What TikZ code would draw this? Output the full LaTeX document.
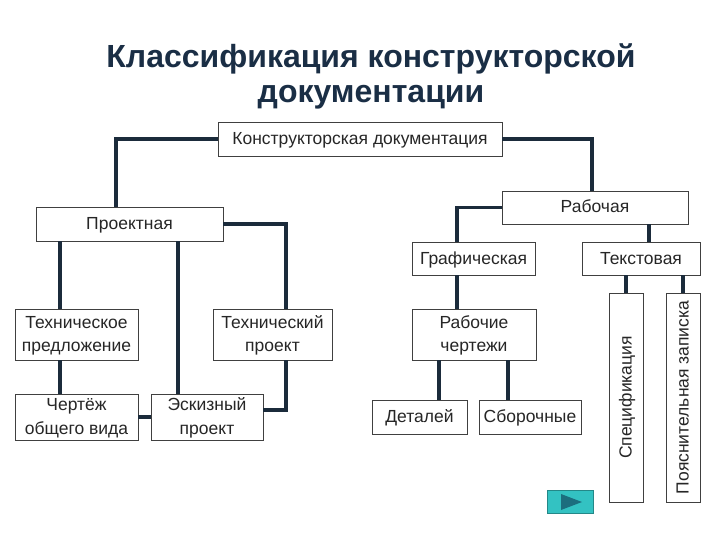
\documentclass[tikz,border=0pt]{standalone}
\usepackage{fontspec}
\setmainfont{Liberation Sans}
\usetikzlibrary{shapes.geometric}
\definecolor{linecol}{HTML}{1B2B3B}
\definecolor{titlecol}{HTML}{1A2E45}
\definecolor{btnfill}{HTML}{33C2C2}
\definecolor{btntri}{HTML}{1C6E7E}
% two centred lines
\newcommand{\twoline}[2]{\raisebox{-5.2pt}[0pt][0pt]{\begin{tabular}{@{}c@{}}#1\\#2\end{tabular}}}
\begin{document}
\begin{tikzpicture}[x=1pt,y=-1pt,
  box/.style={draw=black!75,line width=0.7pt,fill=white,align=center,inner sep=0pt,text=black!85,font=\fontsize{17.5}{23.5}\selectfont},
  low/.style={text height=22.5pt,text depth=11.5pt},
  lowb/.style={text height=22pt,text depth=11pt},
  head/.style={text=titlecol,anchor=base,inner sep=0pt,font=\fontsize{32}{36}\bfseries},
  link/.style={draw=linecol,line width=3.6pt}]
  \useasboundingbox (0,0) rectangle (720,540);
  \fill[white] (0,0) rectangle (720,540);

  % title
  \node[head] (title1) at (371,68) {Классификация конструкторской};
  \node[head] (title2) at (371,103) {документации};

  % nodes
  \node[box,low,minimum width=284] (root) at (360,139) {Конструкторская документация};
  \node[box,low,minimum width=187] (proj) at (129.5,224) {Проектная};
  \node[box,lowb,minimum width=186] (rab) at (595,207.5) {Рабочая};
  \node[box,lowb,minimum width=123] (graf) at (473.5,258.5) {Графическая};
  \node[box,lowb,minimum width=118] (txt) at (641,258.5) {Текстовая};
  \node[box,minimum width=123,minimum height=51] (tpred) at (76.5,334.5) {\twoline{Техническое}{предложение}};
  \node[box,minimum width=119,minimum height=51] (tproj) at (272.5,334.5) {\twoline{Технический}{проект}};
  \node[box,minimum width=123,minimum height=46] (cherr) at (76.5,417) {\twoline{Чертёж}{общего вида}};
  \node[box,minimum width=112,minimum height=46] (eskiz) at (207,417) {\twoline{Эскизный}{проект}};
  \node[box,minimum width=124,minimum height=51] (rch) at (474,334.5) {\twoline{Рабочие}{чертежи}};
  \node[box,low,minimum width=95] (det) at (419.5,417) {Деталей};
  \node[box,low,minimum width=102] (sbor) at (530,417) {Сборочные};
  \node[box,low,minimum width=209,rotate=90] (spec) at (626,397.5) {Спецификация};
  \node[box,low,minimum width=209,rotate=90] (poyas) at (683,397.5) {Пояснительная записка};

  % button
  \node[fill=btnfill,draw=btnfill!70!black,line width=0.4pt,minimum width=46,minimum height=23,inner sep=0pt] (btn) at (570,502) {};
  \fill[btntri] ([xshift=-9]btn.center) ++(0,-8) -- ++(0,16) -- ++(21,-8) -- cycle;

  % connectors
  \path[link]
    (root.west) -| ([xshift=-13.5]proj.north)
    (root.east) -| ([xshift=-3]rab.north)
    (proj.east) -| ([xshift=13.5]tproj.north)
    ([xshift=-16.5]tpred.north) -- ([xshift=-16.5]tpred.north |- proj.south)
    ([xshift=-29]eskiz.north) -- ([xshift=-29]eskiz.north |- proj.south)
    ([xshift=-16.5]tpred.south) -- ([xshift=-16.5]tpred.south |- cherr.north)
    (cherr.east) -- (eskiz.west)
    ([xshift=13.5]tproj.south) |- ([yshift=7]eskiz.east)
    (rab.west) -| ([xshift=-16.5]graf.north)
    ([xshift=54]rab.south) -- ([xshift=54]rab.south |- txt.north)
    (spec.east |- txt.south) -- (spec.east)
    (poyas.east |- txt.south) -- (poyas.east)
    ([xshift=-16.5]graf.south) -- ([xshift=-16.5]graf.south |- rch.north)
    ([xshift=-35]rch.south) -- ([xshift=-35]rch.south |- det.north)
    ([xshift=34]rch.south) -- ([xshift=34]rch.south |- sbor.north);
\end{tikzpicture}
\end{document}
